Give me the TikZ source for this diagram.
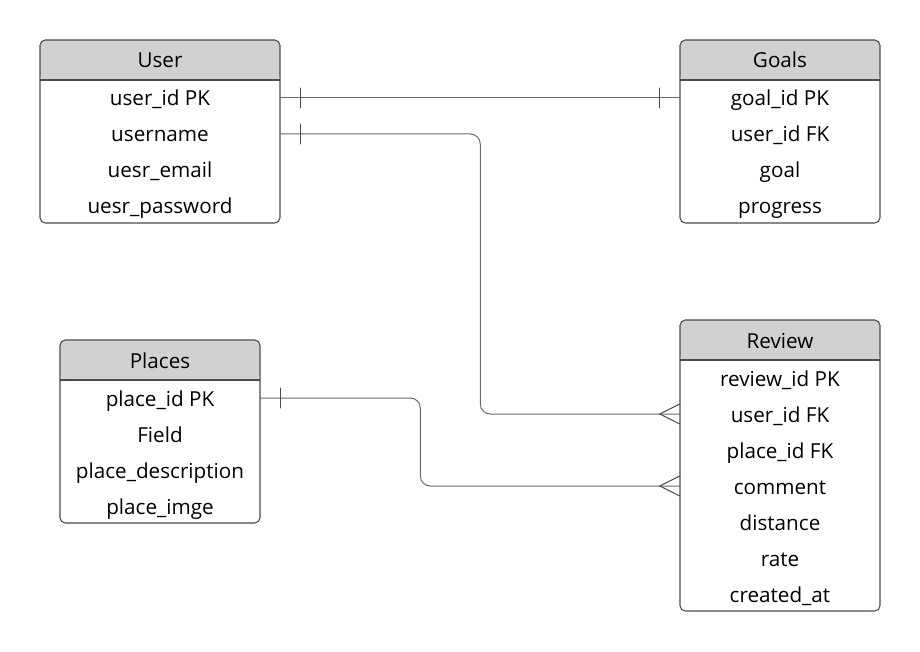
\documentclass[tikz,border=0pt]{standalone}
\usepackage{fontspec}
\setmainfont{Open Sans}
\definecolor{Edge}{RGB}{70,74,82}
\definecolor{Link}{RGB}{100,106,118}
\definecolor{Hfill}{RGB}{209,209,209}
\tikzset{
  table/.style={draw=Edge,line width=0.8pt,fill=white,rounded corners=4pt,inner sep=0pt,
    path picture={
      \fill[Hfill] (path picture bounding box.north west) rectangle ([yshift=-30pt]path picture bounding box.north east);
      \draw[Edge,line width=0.8pt] ([yshift=-30pt]path picture bounding box.north west) -- ([yshift=-30pt]path picture bounding box.north east);}},
  title/.style={inner sep=0pt,text height=12pt,text depth=0pt,font=\fontsize{15.5}{17}\selectfont},
  field/.style={inner sep=0pt,minimum height=27pt,text height=12pt,text depth=0pt,font=\fontsize{15.5}{17}\selectfont},
  link/.style={draw=Link,line width=0.75pt},
  endmark/.style={draw=Edge,line width=0.75pt}
}
\begin{document}
\begin{tikzpicture}[x=0.75pt,y=-0.75pt,line cap=round,line join=round]
\path[use as bounding box] (0,0) rectangle (920,652);
% tables
\node[table,minimum width=180pt,minimum height=137.25pt] (user) at (160,131.5) {};
\node[table,minimum width=150pt,minimum height=137.25pt] (goals) at (780,131.5) {};
\node[table,minimum width=150pt,minimum height=137.25pt] (places) at (160,431.5) {};
\node[table,minimum width=150pt,minimum height=218.25pt] (review) at (780,465.5) {};
% User
\node[title] (user-title) at (160,60) {User};
\node[field,minimum width=180pt] (user-id) at (160,98) {user\_id PK};
\node[field,minimum width=180pt] (user-name) at (160,134) {username};
\node[field,minimum width=180pt] (user-email) at (160,170) {uesr\_email};
\node[field,minimum width=180pt] (user-pass) at (160,206) {uesr\_password};
% Goals
\node[title] (goals-title) at (780,60) {Goals};
\node[field,minimum width=150pt] (goals-id) at (780,98) {goal\_id PK};
\node[field,minimum width=150pt] (goals-user) at (780,134) {user\_id FK};
\node[field,minimum width=150pt] (goals-goal) at (780,170) {goal};
\node[field,minimum width=150pt] (goals-prog) at (780,206) {progress};
% Places
\node[title] (places-title) at (160,360) {Places};
\node[field,minimum width=150pt] (place-id) at (160,398) {place\_id PK};
\node[field,minimum width=150pt] (place-field) at (160,434) {Field};
\node[field,minimum width=150pt] (place-desc) at (160,470) {place\_description};
\node[field,minimum width=150pt] (place-img) at (160,506) {place\_imge};
% Review
\node[title] (review-title) at (780,340) {Review};
\node[field,minimum width=150pt] (review-id) at (780,378) {review\_id PK};
\node[field,minimum width=150pt] (review-user) at (780,414) {user\_id FK};
\node[field,minimum width=150pt] (review-place) at (780,450) {place\_id FK};
\node[field,minimum width=150pt] (review-comment) at (780,486) {comment};
\node[field,minimum width=150pt] (review-dist) at (780,522) {distance};
\node[field,minimum width=150pt] (review-rate) at (780,558) {rate};
\node[field,minimum width=150pt] (review-date) at (780,594) {created\_at};
% relations
\draw[link] (user-id.east) -- (goals-id.west);
\draw[link,rounded corners=7.5pt] (user-name.east) -- ++(200,0) |- (review-user.west);
\draw[link,rounded corners=7.5pt] (place-id.east) -- ++(160,0) |- (review-comment.west);
% one ends
\draw[endmark] ([xshift=15pt]user-id.east) ++(0,-10) -- ++(0,20);
\draw[endmark] ([xshift=-15pt]goals-id.west) ++(0,-10) -- ++(0,20);
\draw[endmark] ([xshift=15pt]user-name.east) ++(0,-10) -- ++(0,20);
\draw[endmark] ([xshift=15pt]place-id.east) ++(0,-10) -- ++(0,20);
% many ends
\draw[endmark] ([yshift=7.5pt]review-user.west) -- ([xshift=-15pt]review-user.west) -- ([yshift=-7.5pt]review-user.west);
\draw[endmark] ([yshift=7.5pt]review-comment.west) -- ([xshift=-15pt]review-comment.west) -- ([yshift=-7.5pt]review-comment.west);
\end{tikzpicture}
\end{document}
